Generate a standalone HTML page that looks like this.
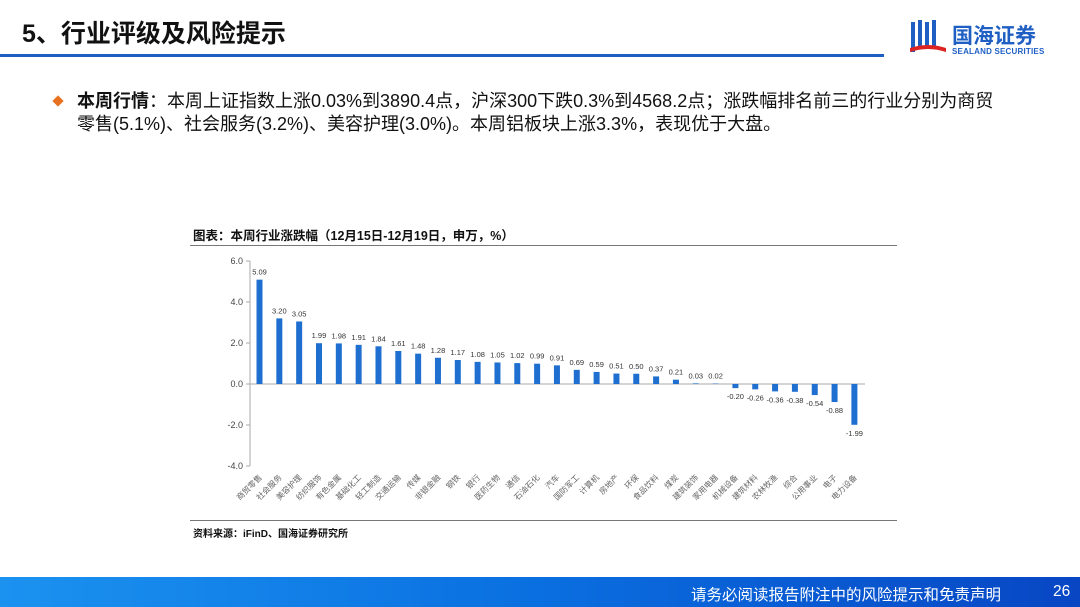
<!DOCTYPE html>
<html><head><meta charset="utf-8"><style>
body{margin:0;width:1080px;height:607px;overflow:hidden;background:#fff;font-family:"Liberation Sans","Noto Sans CJK SC",sans-serif;position:relative}
.abs{position:absolute}
</style></head><body>
<div class="abs" style="left:22px;top:14px;font-size:25px;font-weight:bold;color:#111">5、行业评级及风险提示</div>
<div class="abs" style="left:0;top:54px;width:884px;height:3px;background:#1f5fc4"></div>
<div class="abs" style="left:908px;top:18px;width:160px;height:45px">
 <svg width="40" height="40" viewBox="0 0 40 40"><rect x="3" y="4" width="4" height="30" fill="#1f5fc4"/><rect x="10" y="2" width="4" height="28" fill="#1f5fc4"/><rect x="17" y="4" width="4" height="26" fill="#1f5fc4"/><rect x="24" y="2" width="4" height="28" fill="#1f5fc4"/><path d="M2 30 Q20 24 38 30 L38 34 Q20 28 2 34Z" fill="#d22"/></svg>
 <div class="abs" style="left:44px;top:2px;font-size:21px;font-weight:bold;color:#1f5fc4">国海证券</div>
 <div class="abs" style="left:44px;top:29px;font-size:8px;font-weight:bold;color:#1f5fc4;letter-spacing:0.2px">SEALAND SECURITIES</div>
</div>
<div class="abs" style="left:54px;top:97px;width:8px;height:8px;background:#e8711f;transform:rotate(45deg)"></div>
<div class="abs" style="left:77px;top:90px;width:925px;font-size:18px;line-height:23px;color:#111"><b>本周行情</b>：本周上证指数上涨0.03%到3890.4点，沪深300下跌0.3%到4568.2点；涨跌幅排名前三的行业分别为商贸零售(5.1%)、社会服务(3.2%)、美容护理(3.0%)。本周铝板块上涨3.3%，表现优于大盘。</div>
<div class="abs" style="left:193px;top:225px;font-size:12.5px;font-weight:bold;color:#111">图表：本周行业涨跌幅（12月15日-12月19日，申万，%）</div>
<div class="abs" style="left:190px;top:245px;width:707px;height:1px;background:#777"></div>
<svg class="abs" style="left:0;top:0" width="1080" height="607" id="chart"></svg>
<div class="abs" style="left:190px;top:520px;width:707px;height:1px;background:#777"></div>
<div class="abs" style="left:193px;top:525px;font-size:10px;font-weight:bold;color:#111">资料来源：iFinD、国海证券研究所</div>
<div class="abs" style="left:0;top:577px;width:1080px;height:30px;background:linear-gradient(90deg,#1b92f0,#0a6fe0 50%,#0846c4)"></div>
<div class="abs" style="left:691px;top:583px;font-size:15.5px;color:#fff">请务必阅读报告附注中的风险提示和免责声明</div>
<div class="abs" style="left:1053px;top:583px;font-size:15.5px;color:#fff">26</div>
<script>
const categories=["商贸零售","社会服务","美容护理","纺织服饰","有色金属","基础化工","轻工制造","交通运输","传媒","非银金融","钢铁","银行","医药生物","通信","石油石化","汽车","国防军工","计算机","房地产","环保","食品饮料","煤炭","建筑装饰","家用电器","机械设备","建筑材料","农林牧渔","综合","公用事业","电子","电力设备"];
const values=[5.09,3.20,3.05,1.99,1.98,1.91,1.84,1.61,1.48,1.28,1.17,1.08,1.05,1.02,0.99,0.91,0.69,0.59,0.51,0.50,0.37,0.21,0.03,0.02,-0.20,-0.26,-0.36,-0.38,-0.54,-0.88,-1.99];
const yTicks=[6,4,2,0,-2,-4];
const NS="http://www.w3.org/2000/svg";
const svg=document.getElementById('chart');
const y=v=>384-v*20.5;
const x=i=>259.5+i*19.83;
function mk(t,a){const e=document.createElementNS(NS,t);for(const k in a)e.setAttribute(k,a[k]);svg.appendChild(e);return e;}
const ax=mk('line',{x1:250,x2:250,y1:y(6),y2:y(-4),stroke:'#aaa','stroke-width':1});


const zl=mk('line',{x1:250,x2:865,y1:y(0),y2:y(0),stroke:'#aaa','stroke-width':1});


yTicks.forEach(t=>{
 mk('line',{x1:246,x2:250,y1:y(t),y2:y(t),stroke:'#aaa'});
 const tx=mk('text',{x:243,y:y(t)+3,'text-anchor':'end','font-size':9,fill:'#444'});
 tx.textContent=t.toFixed(1);
 
 
});
values.forEach((v,i)=>{
 const b=mk('rect',{x:x(i)-3,y:Math.min(y(v),y(0)),width:6,height:Math.abs(y(v)-y(0)),fill:'#1f6fd0'});
 
 
 const l=mk('text',{x:x(i),y:v>=0?y(v)-5:y(v)+11,'text-anchor':'middle','font-size':7.5,fill:'#333'});
 l.textContent=v.toFixed(2);
 
 
 const c=mk('text',{x:x(i)+3,y:478,'text-anchor':'end','font-size':8,fill:'#666',transform:`rotate(-45 ${x(i)+3} 478)`});
 c.textContent=categories[i];
 
 
});
</script>
</body></html>
